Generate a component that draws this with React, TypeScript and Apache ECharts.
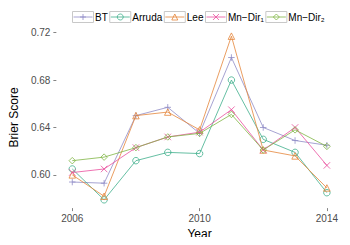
import React, { useEffect, useRef } from "react";
import * as echarts from "echarts";

const years = [2006, 2007, 2008, 2009, 2010, 2011, 2012, 2013, 2014];
const seriesNames = ["BT", "Arruda", "Lee", "Mn\u2212Dir\u2081", "Mn\u2212Dir\u2082"];
const bt = [0.594, 0.593, 0.65, 0.657, 0.635, 0.699, 0.64, 0.629, 0.625];
const arruda = [0.605, 0.579, 0.612, 0.619, 0.618, 0.68, 0.63, 0.619, 0.585];
const lee = [0.6, 0.582, 0.65, 0.653, 0.638, 0.717, 0.621, 0.616, 0.589];
const mnDir1 = [0.602, 0.605, 0.623, 0.632, 0.636, 0.655, 0.621, 0.64, 0.608];
const mnDir2 = [0.612, 0.615, 0.623, 0.632, 0.635, 0.651, 0.621, 0.638, 0.624];
const xTicks = [2006, 2010, 2014];
const yTicks = [0.6, 0.64, 0.68, 0.72];

const colors = ["#8F8BC6", "#3FAF8C", "#E5853A", "#EA4F9E", "#80B545"];
const symbolKinds = ["plus", "circle", "triangle", "cross", "diamond"];
const symbolPaths: Record<string, string> = {
  plus: "path://M0,5L10,5M5,0L5,10",
  circle: "circle",
  triangle: "triangle",
  cross: "path://M0,0L10,10M0,10L10,0",
  diamond: "diamond",
};
const values = [bt, arruda, lee, mnDir1, mnDir2];

const FONT = "'Liberation Sans', Arial, Helvetica, sans-serif";

function legendSymbol(kind: string, cx: number, cy: number, s: number, color: string): any {
  const h = s / 2;
  const style = { fill: "none", stroke: color, lineWidth: 0.8 };
  switch (kind) {
    case "circle":
      return { type: "circle", shape: { cx, cy, r: h }, style };
    case "triangle":
      return { type: "polygon", shape: { points: [[cx, cy - h], [cx + h, cy + h], [cx - h, cy + h]] }, style };
    case "diamond":
      return { type: "polygon", shape: { points: [[cx, cy - h], [cx + h, cy], [cx, cy + h], [cx - h, cy]] }, style };
    case "plus":
      return {
        type: "group",
        children: [
          { type: "line", shape: { x1: cx - h, y1: cy, x2: cx + h, y2: cy }, style },
          { type: "line", shape: { x1: cx, y1: cy - h, x2: cx, y2: cy + h }, style },
        ],
      };
    default:
      return {
        type: "group",
        children: [
          { type: "line", shape: { x1: cx - h, y1: cy - h, x2: cx + h, y2: cy + h }, style },
          { type: "line", shape: { x1: cx - h, y1: cy + h, x2: cx + h, y2: cy - h }, style },
        ],
      };
  }
}

export default function App() {
  const ref = useRef<HTMLDivElement>(null);
  useEffect(() => {
    if (!ref.current) return;
    const chart = echarts.init(ref.current, null, { renderer: "svg" });

    const legendLeft = 72;
    const cy = 17;
    const boxW = 21;
    const boxH = 11;
    const textGap = 1.5;
    const itemGap = 1.5;
    const canvas = document.createElement("canvas");
    const ctx = canvas.getContext("2d")!;
    ctx.font = `10px ${FONT}`;
    const legendEls: any[] = [];
    let x = legendLeft;
    seriesNames.forEach((n, i) => {
      legendEls.push({
        type: "rect",
        silent: true,
        shape: { x: x + 0.5, y: cy - boxH / 2, width: boxW, height: boxH },
        style: { fill: "#fff", stroke: "#C8C8C8", lineWidth: 1 },
      });
      legendEls.push({
        type: "line",
        silent: true,
        shape: { x1: x + 1.5, y1: cy, x2: x + boxW - 0.5, y2: cy },
        style: { stroke: colors[i], lineWidth: 0.8 },
      });
      legendEls.push({ ...legendSymbol(symbolKinds[i], x + 0.5 + boxW / 2, cy, 6, colors[i]), silent: true });
      const tx = x + boxW + 0.5 + textGap;
      legendEls.push({
        type: "text",
        silent: true,
        x: tx,
        y: cy,
        style: { text: n, fill: "#000", font: `10px ${FONT}`, textVerticalAlign: "middle", textAlign: "left" },
      });
      x = tx + ctx.measureText(n).width + itemGap;
    });

    chart.setOption({
      animation: false,
      textStyle: { fontFamily: FONT },
      grid: { left: 49, right: 7.2, top: 26.7, bottom: 35.9 },
      graphic: [{ type: "group", z: 10, children: legendEls }],
      xAxis: {
        type: "value",
        min: 2005.5,
        max: 2014.5,
        name: "Year",
        nameLocation: "middle",
        nameGap: 18,
        nameTextStyle: { fontSize: 12, color: "#000", fontFamily: FONT },
        axisLine: { show: false },
        splitLine: { show: false },
        axisTick: { show: true, length: 3, lineStyle: { color: "#666", width: 0.8 }, customValues: xTicks },
        axisLabel: { fontSize: 10, color: "#4D4D4D", margin: 5, customValues: xTicks, formatter: (v: number) => String(v) },
      },
      yAxis: {
        type: "value",
        min: 0.572,
        max: 0.725,
        name: "Brier Score",
        nameLocation: "middle",
        nameGap: 30,
        nameTextStyle: { fontSize: 12, color: "#000", fontFamily: FONT },
        axisLine: { show: false },
        splitLine: { show: false },
        axisTick: { show: true, length: 3, lineStyle: { color: "#666", width: 0.8 }, customValues: yTicks },
        axisLabel: { fontSize: 10, color: "#4D4D4D", margin: 6, customValues: yTicks, formatter: (v: number) => v.toFixed(2) },
      },
      series: seriesNames.map((n, i) => ({
        name: n,
        type: "line",
        data: years.map((y, j) => [y, values[i][j]]),
        symbol: symbolPaths[symbolKinds[i]],
        symbolSize: 6.5,
        showSymbol: true,
        color: colors[i],
        lineStyle: { color: colors[i], width: 0.8 },
        itemStyle: { color: "rgba(255,255,255,0)", borderColor: colors[i], borderWidth: 0.8 },
        emphasis: { disabled: true },
        z: 2 + i,
      })),
    });
    return () => chart.dispose();
  }, []);
  return <div ref={ref} style={{ width: 350, height: 245, margin: -8 }} />;
}
